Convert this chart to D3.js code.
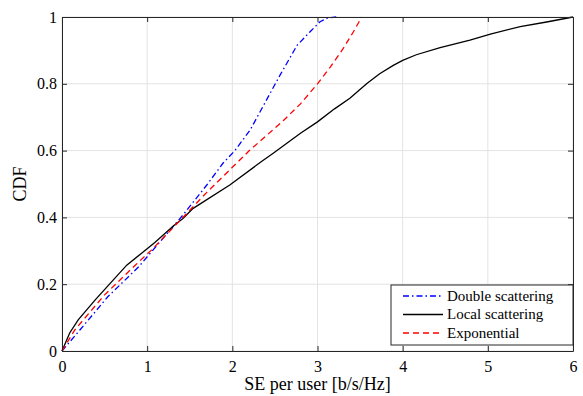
<!DOCTYPE html>
<html>
<head>
<meta charset="utf-8">
<script src="https://cdn.jsdelivr.net/npm/d3@7"></script>
<style>
  body { margin: 0; background: #fff; }
  svg text { font-family: "Liberation Serif", "DejaVu Serif", serif; fill: #000; }
</style>
</head>
<body>
<div id="chart"></div>
<script>
// series (SE in b/s/Hz, CDF)
const doubleX = [0, 0.21, 0.54, 0.90, 1.05, 1.42, 1.70, 1.89, 2.03, 2.21, 2.40, 2.56, 2.76, 2.91, 3.03, 3.12, 3.22];
const doubleY = [0, 0.063, 0.163, 0.252, 0.297, 0.407, 0.497, 0.562, 0.60, 0.662, 0.751, 0.826, 0.915, 0.955, 0.986, 0.997, 1.0];

const localX = [0, 0.09, 0.19, 0.39, 0.76, 0.92, 1.09, 1.31, 1.42, 1.54, 1.97, 2.33, 2.48, 2.80, 3.0, 3.2, 3.38, 3.58, 3.73, 3.89, 4.0, 4.16, 4.44, 4.79, 5.03, 5.38, 5.69, 6.0];
const localY = [0, 0.054, 0.093, 0.153, 0.257, 0.29, 0.325, 0.375, 0.397, 0.427, 0.497, 0.565, 0.592, 0.652, 0.686, 0.725, 0.757, 0.801, 0.830, 0.855, 0.870, 0.887, 0.908, 0.931, 0.949, 0.971, 0.985, 1.0];

const expX = [0, 0.15, 0.5, 0.86, 1.05, 1.39, 1.70, 2.0, 2.2, 2.4, 2.6, 2.8, 3.0, 3.15, 3.3, 3.42, 3.52];
const expY = [0, 0.063, 0.168, 0.257, 0.302, 0.392, 0.475, 0.55, 0.6, 0.645, 0.69, 0.74, 0.80, 0.85, 0.905, 0.955, 1.0];

const xTicks = [0, 1, 2, 3, 4, 5, 6];
const yTicks = [0, 0.2, 0.4, 0.6, 0.8, 1];

const seriesNames = ["Double scattering", "Local scattering", "Exponential"];

const W = 583, H = 396;
const margin = {top: 17, right: 10, bottom: 45, left: 62};
const width = 573 - margin.left;
const height = 351 - margin.top;

const svg = d3.select("#chart").append("svg")
  .attr("width", W).attr("height", H);

const g = svg.append("g")
  .attr("transform", "translate(" + margin.left + "," + margin.top + ")");

const xScale = d3.scaleLinear().domain([0, 6]).range([0, width]);
const yScale = d3.scaleLinear().domain([0, 1]).range([height, 0]);

// grid
g.append("g").selectAll("line").data(xTicks).enter().append("line")
  .attr("x1", d => xScale(d)).attr("x2", d => xScale(d))
  .attr("y1", 0).attr("y2", height)
  .attr("stroke", "#e3e3e3").attr("stroke-width", 1);
g.append("g").selectAll("line").data(yTicks).enter().append("line")
  .attr("y1", d => yScale(d)).attr("y2", d => yScale(d))
  .attr("x1", 0).attr("x2", width)
  .attr("stroke", "#e3e3e3").attr("stroke-width", 1);

// curves
const line = d3.line()
  .x(d => xScale(d[0]))
  .y(d => yScale(d[1]));

const series = [
  {xs: doubleX, ys: doubleY, color: "#0000ff", dash: "6 3 1.5 3"},
  {xs: localX, ys: localY, color: "#000000", dash: null},
  {xs: expX, ys: expY, color: "#ff0000", dash: "6 4"}
];

series.forEach(s => {
  g.append("path")
    .datum(s.xs.map((x, i) => [x, s.ys[i]]))
    .attr("fill", "none")
    .attr("stroke", s.color)
    .attr("stroke-width", 1.3)
    .attr("stroke-dasharray", s.dash)
    .attr("d", line);
});

// axes (box with inward ticks on all sides)
const fmt = d => String(d);
const axisStyle = sel => {
  sel.attr("font-family", null).attr("font-size", null);
  sel.select(".domain").attr("stroke", "#262626");
  sel.selectAll(".tick line").attr("stroke", "#262626");
  sel.selectAll(".tick text").style("font-size", "16px");
};

g.append("g")
  .attr("transform", "translate(0," + height + ")")
  .call(d3.axisBottom(xScale).tickValues(xTicks).tickFormat(fmt).tickSize(-5).tickPadding(10).tickSizeOuter(0))
  .call(axisStyle);
g.append("g")
  .call(d3.axisTop(xScale).tickValues(xTicks).tickSize(-5).tickFormat("").tickSizeOuter(0))
  .call(axisStyle);
g.append("g")
  .call(d3.axisLeft(yScale).tickValues(yTicks).tickFormat(fmt).tickSize(-5).tickPadding(5).tickSizeOuter(0))
  .call(axisStyle);
g.append("g")
  .attr("transform", "translate(" + width + ",0)")
  .call(d3.axisRight(yScale).tickValues(yTicks).tickSize(-5).tickFormat("").tickSizeOuter(0))
  .call(axisStyle);

// axis labels
svg.append("text")
  .attr("x", margin.left + width / 2)
  .attr("y", 390)
  .attr("text-anchor", "middle")
  .style("font-size", "18px")
  .text("SE per user [b/s/Hz]");

svg.append("text")
  .attr("transform", "translate(26," + (margin.top + height / 2) + ") rotate(-90)")
  .attr("text-anchor", "middle")
  .style("font-size", "18px")
  .text("CDF");

// legend
const legend = svg.append("g").attr("transform", "translate(391,285)");
legend.append("rect")
  .attr("width", 182).attr("height", 60)
  .attr("fill", "#fff").attr("stroke", "#262626").attr("stroke-width", 1);

series.forEach((s, i) => {
  const yy = 11 + i * 18.5;
  legend.append("line")
    .attr("x1", 12).attr("x2", 52)
    .attr("y1", yy).attr("y2", yy)
    .attr("stroke", s.color).attr("stroke-width", 1.3)
    .attr("stroke-dasharray", s.dash);
  legend.append("text")
    .attr("x", 56).attr("y", yy + 4.5)
    .style("font-size", "15px")
    .text(seriesNames[i]);
});
</script>
</body>
</html>
